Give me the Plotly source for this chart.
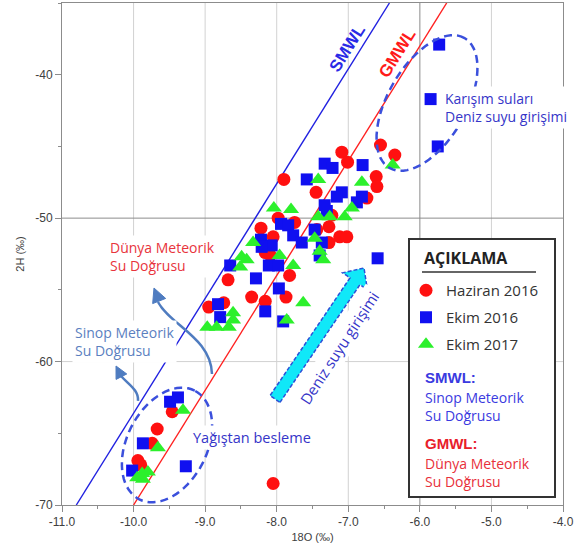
import math
import plotly.graph_objects as go

# ---------------- data (delta 18O, delta 2H, permil) ----------------
haziran_x = [-6.55, -6.35, -7.90, -7.09, -7.01, -7.45, -6.61, -6.60, -6.74, -7.98,
             -7.75, -8.22, -8.05, -7.27, -7.12, -7.02, -7.44, -7.27, -7.23, -8.16,
             -8.09, -7.82, -8.68, -8.35, -7.87, -8.16, -8.95, -8.74, -9.46, -9.67,
             -9.74, -9.94, -9.90, -8.05]
haziran_y = [-44.9, -45.6, -47.3, -45.4, -46.1, -48.2, -47.1, -47.8, -48.6, -50.0,
             -50.3, -50.7, -51.3, -50.6, -51.3, -51.3, -50.8, -51.7, -49.8, -52.4,
             -52.6, -54.0, -54.3, -55.5, -55.5, -55.8, -56.2, -55.9, -63.5, -64.7,
             -65.7, -66.9, -67.2, -68.5]

ekim16_x = [-5.73, -5.85, -5.75, -7.33, -7.22, -6.80, -7.58, -7.09, -7.16, -6.81,
            -6.88, -7.33, -7.30, -7.94, -7.84, -7.77, -8.22, -8.07, -7.47, -7.65,
            -7.37, -7.40, -8.21, -8.11, -7.98, -8.65, -8.29, -7.97, -8.16, -8.82,
            -8.79, -7.91, -6.59, -9.49, -9.38, -9.87, -10.02, -9.27]
ekim16_y = [-37.9, -41.7, -45.0, -46.2, -46.5, -46.3, -47.3, -48.2, -48.5, -48.5,
            -48.9, -49.1, -49.5, -50.4, -50.5, -51.2, -51.5, -51.9, -50.8, -51.7,
            -51.7, -52.6, -52.0, -53.3, -53.3, -53.3, -54.2, -54.9, -56.5, -56.0,
            -56.9, -57.2, -52.8, -62.8, -62.5, -65.7, -67.6, -67.3]

ekim17_x = [-6.38, -7.42, -6.81, -8.04, -7.80, -6.95, -7.05, -7.26, -7.42, -7.47,
            -7.35, -7.40, -7.96, -8.33, -8.49, -8.42, -8.51, -7.77, -7.63, -8.61,
            -8.61, -8.97, -8.84, -8.67, -7.86, -9.31, -9.66, -9.95, -9.87, -9.80,
            -9.88]
ekim17_y = [-46.3, -47.3, -47.5, -49.3, -49.4, -49.3, -49.9, -49.9, -49.9, -51.4,
            -52.9, -52.3, -52.6, -51.7, -52.7, -52.9, -53.4, -53.3, -55.9, -56.6,
            -57.1, -57.6, -57.6, -57.6, -57.1, -63.4, -66.0, -68.1, -68.2, -67.7,
            -67.8]

# meteoric water lines (end points)
smwl_x = [-10.8, -6.425]
smwl_y = [-70.0, -35.0]
gmwl_x = [-10.0, -5.625]
gmwl_y = [-70.0, -35.0]

x_ticks = [-11, -10, -9, -8, -7, -6, -5, -4]
x_ticklabels = ["-11.0", "-10.0", "-9.0", "-8.0", "-7.0", "-6.0", "-5.0", "-4.0"]
y_ticks = [-70, -60, -50, -40]
y_ticklabels = ["-70", "-60", "-50", "-40"]

series_names = ["Haziran 2016", "Ekim 2016", "Ekim 2017"]

# ---------------- layout geometry ----------------
W, H = 584, 551
ML, MR, MT, MB = 62, 21, 3, 46
PW, PH = W - ML - MR, H - MT - MB


def fx(p):  # pixel x -> paper
    return (p - ML) / PW


def fy(p):  # pixel y -> paper
    return (H - MB - p) / PH


def pt(x, y):
    return f"{fx(x):.4f},{fy(y):.4f}"


def ellipse_path(cx, cy, a, b, ang, n=72):
    phi = math.radians(ang)
    pts = []
    for i in range(n + 1):
        t = 2 * math.pi * i / n
        ex = cx + a * math.cos(t) * math.cos(phi) - b * math.sin(t) * math.sin(phi)
        ey = cy - (a * math.cos(t) * math.sin(phi) + b * math.sin(t) * math.cos(phi))
        pts.append(pt(ex, ey))
    return "M" + " L".join(pts) + " Z"


def head_path(tx, ty, dx, dy, length, half):
    n = math.hypot(dx, dy)
    dx, dy = dx / n, dy / n
    bx, by = tx - length * dx, ty - length * dy
    nx, ny = -dy, dx
    return f"M{pt(bx + half * nx, by + half * ny)} L{pt(tx, ty)} L{pt(bx - half * nx, by - half * ny)} Z"


RED, BLUE, GREEN = "#ff1010", "#1010f0", "#2cf02c"
FONT = "Open Sans"

fig = go.Figure()

fig.add_trace(go.Scatter(x=smwl_x, y=smwl_y, mode="lines", line=dict(color="#2020e0", width=1.4),
                         showlegend=False, hoverinfo="skip"))
fig.add_trace(go.Scatter(x=gmwl_x, y=gmwl_y, mode="lines", line=dict(color="#ff2020", width=1.4),
                         showlegend=False, hoverinfo="skip"))

fig.add_trace(go.Scatter(x=haziran_x, y=haziran_y, mode="markers", name=series_names[0],
                         legendgroup="a", marker=dict(symbol="circle", size=13, color=RED)))
fig.add_trace(go.Scatter(x=ekim16_x, y=ekim16_y, mode="markers", name=series_names[1],
                         legendgroup="b", marker=dict(symbol="square", size=12, color=BLUE)))
fig.add_trace(go.Scatter(x=ekim17_x, y=ekim17_y, mode="markers", name=series_names[2],
                         legendgroup="c", marker=dict(symbol="triangle-up", size=14, color=GREEN)))

shapes = []
# grid lines
for xv in [-10, -9, -8, -7, -5]:
    shapes.append(dict(type="line", xref="x", yref="paper", x0=xv, x1=xv, y0=0, y1=1,
                       line=dict(color="#d2d2d2", width=1), layer="below"))
shapes.append(dict(type="line", xref="x", yref="paper", x0=-6, x1=-6, y0=0, y1=1,
                   line=dict(color="#8c8c8c", width=1), layer="below"))
shapes.append(dict(type="line", xref="paper", yref="y", x0=0, x1=1, y0=-60, y1=-60,
                   line=dict(color="#d2d2d2", width=1), layer="below"))
shapes.append(dict(type="line", xref="paper", yref="y", x0=0, x1=1, y0=-50, y1=-50,
                   line=dict(color="#8c8c8c", width=1), layer="below"))
# legend box
shapes.append(dict(type="rect", xref="paper", yref="paper", x0=fx(409), x1=fx(555), y0=fy(497), y1=fy(239),
                   line=dict(color="#333333", width=2), fillcolor="white", layer="below"))
shapes.append(dict(type="line", xref="paper", yref="paper", x0=fx(422), x1=fx(536), y0=fy(272), y1=fy(272),
                   line=dict(color="#333333", width=1.5), layer="below"))
# dashed ellipses
ell_line = dict(color="#3b50dc", width=2.5, dash="8px,5px")
shapes.append(dict(type="path", xref="paper", yref="paper", path=ellipse_path(167, 445, 61, 40, 63),
                   line=ell_line, layer="above"))
shapes.append(dict(type="path", xref="paper", yref="paper", path=ellipse_path(427, 103, 75, 39, 60),
                   line=ell_line, layer="above"))
# curved arrows
ARC = "#4f7cc0"
shapes.append(dict(type="path", xref="paper", yref="paper",
                   path=f"M{pt(212, 374)} C{pt(211, 338)} {pt(170, 325)} {pt(158, 302)}",
                   line=dict(color=ARC, width=2.5), layer="above"))
shapes.append(dict(type="path", xref="paper", yref="paper", path=head_path(154, 288, -0.37, -0.93, 14, 7),
                   line=dict(color=ARC, width=1), fillcolor=ARC, layer="above"))
shapes.append(dict(type="path", xref="paper", yref="paper",
                   path=f"M{pt(138, 401)} C{pt(139, 390)} {pt(128, 384)} {pt(121, 376)}",
                   line=dict(color=ARC, width=2.5), layer="above"))
shapes.append(dict(type="path", xref="paper", yref="paper", path=head_path(116, 366, -0.45, -0.89, 12, 6),
                   line=dict(color=ARC, width=1), fillcolor=ARC, layer="above"))
# cyan arrow
sx, sy, tx, ty = 275, 399, 364, 268
L = math.hypot(tx - sx, ty - sy)
dx, dy = (tx - sx) / L, (ty - sy) / L
nx, ny = -dy, dx
hb, hh, hl = 6, 15, 16
hx, hy = tx - hl * dx, ty - hl * dy
poly = [(sx + hb * nx, sy + hb * ny), (hx + hb * nx, hy + hb * ny), (hx + hh * nx, hy + hh * ny),
        (tx, ty), (hx - hh * nx, hy - hh * ny), (hx - hb * nx, hy - hb * ny), (sx - hb * nx, sy - hb * ny)]
shapes.append(dict(type="path", xref="paper", yref="paper",
                   path="M" + " L".join(pt(a, b) for a, b in poly) + " Z",
                   fillcolor="#10e8f8", line=dict(color="#2c50d8", width=1.5, dash="4px,2px"), layer="above"))

annotations = []


def txt(x, y, text, color, size=14, bold=False, bg=None, xanchor="left", angle=0, family=FONT):
    annotations.append(dict(xref="paper", yref="paper", x=fx(x), y=fy(y), text=f"<b>{text}</b>" if bold else text,
                            showarrow=False, xanchor=xanchor, yanchor="middle", align="left",
                            font=dict(family=family, size=size, color=color), textangle=angle,
                            bgcolor=bg, borderpad=2))


txt(107, 256, "Dünya Meteorik<br>Su Doğrusu", "#e8343c", bg="white")
txt(72, 341, "Sinop Meteorik<br>Su Doğrusu", "#5b7fbf", bg="white")
txt(442, 107, "Karışım suları<br>Deniz suyu girişimi", "#3535c8", bg="white")
txt(190, 437, "Yağıştan besleme", "#3535c8", size=14.5, bg="white")
txt(339, 348, "Deniz suyu girişimi", "#3535c8", size=15, bg="white", xanchor="center", angle=-57)
txt(347, 48, "SMWL", "#2a2ae6", size=17, bold=True, xanchor="center", angle=-58, family="Arial")
txt(397, 53, "GMWL", "#ff1a1a", size=17, bold=True, xanchor="center", angle=-58, family="Arial")
# legend heading and extra text
txt(421, 258, "AÇIKLAMA", "#222222", size=16, bold=True)
txt(422, 377, "SMWL:", "#3a3ae0", size=15, bold=True, family="Arial")
txt(422, 406, "Sinop Meteorik<br>Su Doğrusu", "#3a3ae0")
txt(422, 443, "GMWL:", "#e8202a", size=15, bold=True, family="Arial")
txt(422, 472, "Dünya Meteorik<br>Su Doğrusu", "#e8303a")

fig.update_layout(
    width=W, height=H,
    margin=dict(l=ML, r=MR, t=MT, b=MB),
    paper_bgcolor="white", plot_bgcolor="white",
    shapes=shapes, annotations=annotations,
    showlegend=True,
    legend=dict(x=fx(406), y=fy(274), xanchor="left", yanchor="top", bgcolor="rgba(0,0,0,0)",
                traceorder="grouped", tracegroupgap=4.5,
                font=dict(family=FONT, size=15, color="#333333")),
    xaxis=dict(range=[-11, -4], tickvals=x_ticks, ticktext=x_ticklabels, showgrid=False, zeroline=False,
               showline=True, linecolor="#8c8c8c", mirror=True, ticks="outside", ticklen=6, tickcolor="#8c8c8c",
               minor=dict(dtick=0.5, ticks="outside", ticklen=3, tickcolor="#8c8c8c"),
               tickfont=dict(family="Arial", size=12, color="#404040"),
               title=dict(text="18O (‰)", font=dict(family="Arial", size=11, color="#404040"), standoff=4)),
    yaxis=dict(range=[-70, -35], tickvals=y_ticks, ticktext=y_ticklabels, showgrid=False, zeroline=False,
               showline=True, linecolor="#8c8c8c", mirror=True, ticks="outside", ticklen=6, tickcolor="#8c8c8c",
               minor=dict(dtick=5, ticks="outside", ticklen=3, tickcolor="#8c8c8c"),
               tickfont=dict(family="Arial", size=12, color="#404040"),
               title=dict(text="2H (‰)", font=dict(family="Arial", size=11, color="#404040"), standoff=8)),
)

fig.write_html("out.html", config={"displayModeBar": False},
               post_script="document.body.style.margin='0';")
